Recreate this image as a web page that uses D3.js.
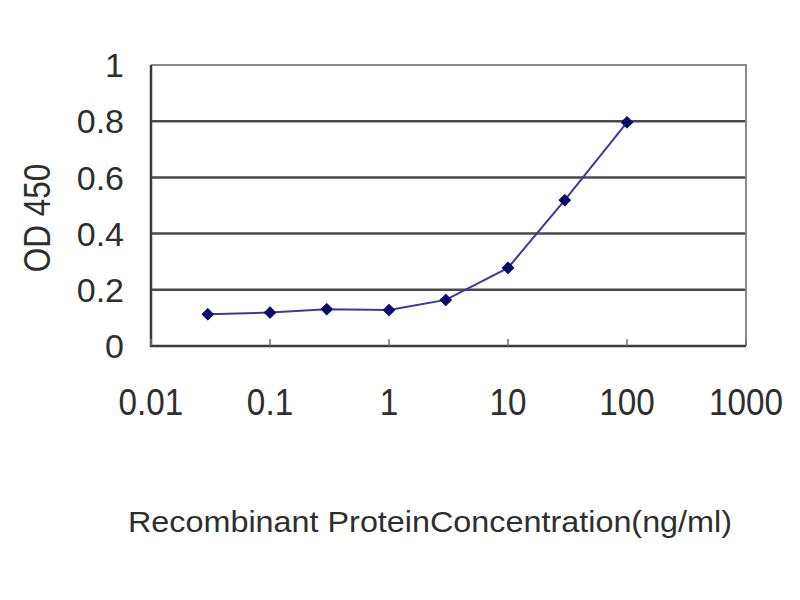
<!DOCTYPE html>
<html>
<head>
<meta charset="utf-8">
<script src="https://cdn.jsdelivr.net/npm/d3@7"></script>
<style>
  html, body { margin: 0; padding: 0; background: #ffffff; }
  svg { display: block; }
</style>
</head>
<body>
<svg id="chart" width="800" height="600"></svg>
<script>
// ---- data ----
const concentrations = [0.03, 0.1, 0.3, 1, 3, 10, 30, 100];
const odValues = [0.113, 0.119, 0.131, 0.128, 0.164, 0.278, 0.519, 0.796];
const xTickValues = [0.01, 0.1, 1, 10, 100, 1000];
const xTickLabels = ["0.01", "0.1", "1", "10", "100", "1000"];
const yTickValues = [0, 0.2, 0.4, 0.6, 0.8, 1];
const yTickLabels = ["0", "0.2", "0.4", "0.6", "0.8", "1"];
const xTitle = "Recombinant ProteinConcentration(ng/ml)";
const yTitle = "OD 450";

(function () {
const svg = d3.select("#chart");
const pL = 151, pR = 746, pT = 65, pB = 346;
const font = "'Liberation Sans', Arial, sans-serif";
const textColor = "#2e2e2e";

const x = d3.scaleLog().domain([0.01, 1000]).range([pL, pR]);
const y = d3.scaleLinear().domain([0, 1]).range([pB, pT]);

// gridlines
svg.append("g").selectAll("line")
  .data(yTickValues.filter(v => v > 0 && v < 1))
  .join("line")
  .attr("x1", pL).attr("x2", pR)
  .attr("y1", d => y(d)).attr("y2", d => y(d))
  .attr("stroke", "#4a4a4a").attr("stroke-width", 2.5);

// frame top/right
svg.append("path")
  .attr("d", `M${pL},${pT}H${pR}V${pB}`)
  .attr("fill", "none").attr("stroke", "#8a8a8a").attr("stroke-width", 2);

// left & bottom axes lines
svg.append("path")
  .attr("d", `M${pL},${pT}V${pB}H${pR}`)
  .attr("fill", "none").attr("stroke", "#3a3a3a").attr("stroke-width", 2.5);

// x inner tick marks
svg.append("g").selectAll("line")
  .data(xTickValues)
  .join("line")
  .attr("x1", d => x(d)).attr("x2", d => x(d))
  .attr("y1", pB).attr("y2", pB - 7)
  .attr("stroke", "#707070").attr("stroke-width", 1.5);

// y tick labels
svg.append("g").selectAll("text")
  .data(yTickValues)
  .join("text")
  .attr("x", 124)
  .attr("y", d => y(d))
  .attr("dy", "0.36em")
  .attr("text-anchor", "end")
  .attr("font-family", font)
  .attr("font-size", 34)
  .attr("fill", textColor)
  .text((d, i) => yTickLabels[i]);

// x tick labels
svg.append("g").selectAll("text")
  .data(xTickValues)
  .join("text")
  .attr("transform", d => `translate(${x(d)},415) scale(0.9,1)`)
  .attr("text-anchor", "middle")
  .attr("font-family", font)
  .attr("font-size", 37)
  .attr("fill", textColor)
  .text((d, i) => xTickLabels[i]);

// axis titles
svg.append("text")
  .attr("x", 128).attr("y", 532)
  .attr("textLength", 604)
  .attr("lengthAdjust", "spacingAndGlyphs")
  .attr("font-family", font)
  .attr("font-size", 30)
  .attr("fill", textColor)
  .text(xTitle);

svg.append("text")
  .attr("transform", "translate(50,218) rotate(-90) scale(0.85,1)")
  .attr("text-anchor", "middle")
  .attr("font-family", font)
  .attr("font-size", 37)
  .attr("fill", textColor)
  .text(yTitle);

// line
const line = d3.line().x((d, i) => x(concentrations[i])).y(d => y(d));
svg.append("path")
  .datum(odValues)
  .attr("d", line)
  .attr("fill", "none")
  .attr("stroke", "#3a3a9a")
  .attr("stroke-width", 2);

// markers (rotated squares)
svg.append("g").selectAll("path")
  .data(odValues)
  .join("path")
  .attr("transform", (d, i) => `translate(${x(concentrations[i])},${y(d)}) rotate(45)`)
  .attr("d", d3.symbol().type(d3.symbolSquare).size(64))
  .attr("fill", "#0a0a66")
  .attr("stroke", "#0a0a66")
  .attr("stroke-width", 1)
  .attr("stroke-linejoin", "round");
})();
</script>
</body>
</html>
